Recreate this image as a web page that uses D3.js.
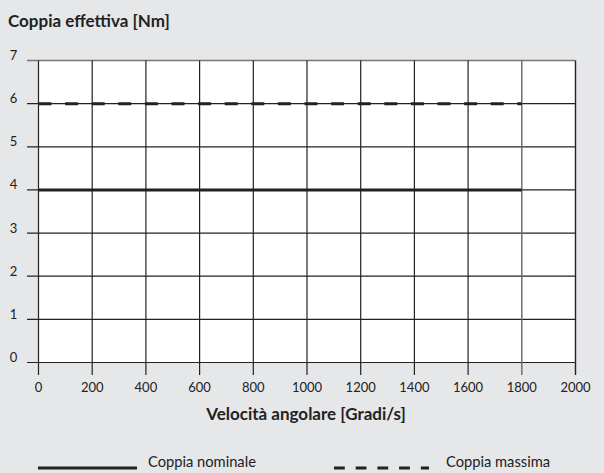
<!DOCTYPE html>
<html><head><meta charset="utf-8">
<script src="https://cdn.jsdelivr.net/npm/d3@7"></script>
<style>
body{margin:0;background:#e6e7e9;}
svg{display:block;font-family:"Lato","Open Sans",sans-serif;}
</style></head><body>
<svg id="c" width="604" height="473"></svg>
<script>
const xTicks = [0,200,400,600,800,1000,1200,1400,1600,1800,2000];
const yTicks = [0,1,2,3,4,5,6,7];
const speeds = [0,1800];
const nominal = [4,4];
const maximum = [6,6];
const title = "Coppia effettiva [Nm]";
const xTitle = "Velocità angolare [Gradi/s]";
const legendLabels = ["Coppia nominale","Coppia massima"];

const svg = d3.select("#c");
const x = d3.scaleLinear().domain([0,2000]).range([38.5,575.5]);
const y = d3.scaleLinear().domain([0,7]).range([362.5,60.5]);

svg.append("rect").attr("x",x(0)).attr("y",y(7)).attr("width",x(2000)-x(0)).attr("height",y(0)-y(7)).attr("fill","#fff");

// horizontal grid
svg.selectAll(".hg").data(yTicks).enter().append("line")
  .attr("x1",27).attr("x2",x(2000)).attr("y1",d=>y(d)).attr("y2",d=>y(d))
  .attr("stroke",d=>d===7?"#777":"#222").attr("stroke-width",d=>d===7?1.5:1.2);
// vertical grid
svg.selectAll(".vg").data(xTicks).enter().append("line")
  .attr("x1",d=>x(d)).attr("x2",d=>x(d)).attr("y1",y(7)).attr("y2",375)
  .attr("stroke",d=>(d===1800)?"#666":"#222").attr("stroke-width",d=>(d===1800||d===2000)?1.4:1.2);

// y labels
svg.selectAll(".yl").data(yTicks).enter().append("text")
  .attr("x",13.5).attr("y",d=>y(d)-0.5).attr("text-anchor","middle")
  .attr("font-size",13).attr("fill","#222").text(d=>d);
// x labels
svg.selectAll(".xl").data(xTicks).enter().append("text")
  .attr("x",d=>x(d)).attr("y",392).attr("text-anchor","middle")
  .attr("font-size",13).attr("fill","#222").text(d=>d);

const line = d3.line().x(d=>x(d[0])).y(d=>y(d[1]));
svg.append("path").attr("d",line(speeds.map((s,i)=>[s,nominal[i]])))
  .attr("stroke","#222").attr("stroke-width",3).attr("fill","none");
svg.append("path").attr("d",line(speeds.map((s,i)=>[s,maximum[i]])))
  .attr("stroke","#222").attr("stroke-width",3).attr("fill","none").attr("stroke-dasharray","13,13.6");

svg.append("text").attr("x",8).attr("y",27).attr("font-size",17).attr("font-weight","bold").attr("fill","#222").text(title);
svg.append("text").attr("x",306).attr("y",420).attr("text-anchor","middle").attr("font-size",17).attr("font-weight","bold").attr("fill","#222").text(xTitle);

// legend
svg.append("line").attr("x1",38).attr("x2",137).attr("y1",468).attr("y2",468).attr("stroke","#222").attr("stroke-width",3);
svg.append("text").attr("x",148).attr("y",467).attr("font-size",14.7).attr("fill","#222").text(legendLabels[0]);
svg.append("line").attr("x1",334).attr("x2",429).attr("y1",468).attr("y2",468).attr("stroke","#222").attr("stroke-width",3).attr("stroke-dasharray","10.8,10.9");
svg.append("text").attr("x",446).attr("y",467).attr("font-size",14.7).attr("fill","#222").text(legendLabels[1]);
</script></body></html>
